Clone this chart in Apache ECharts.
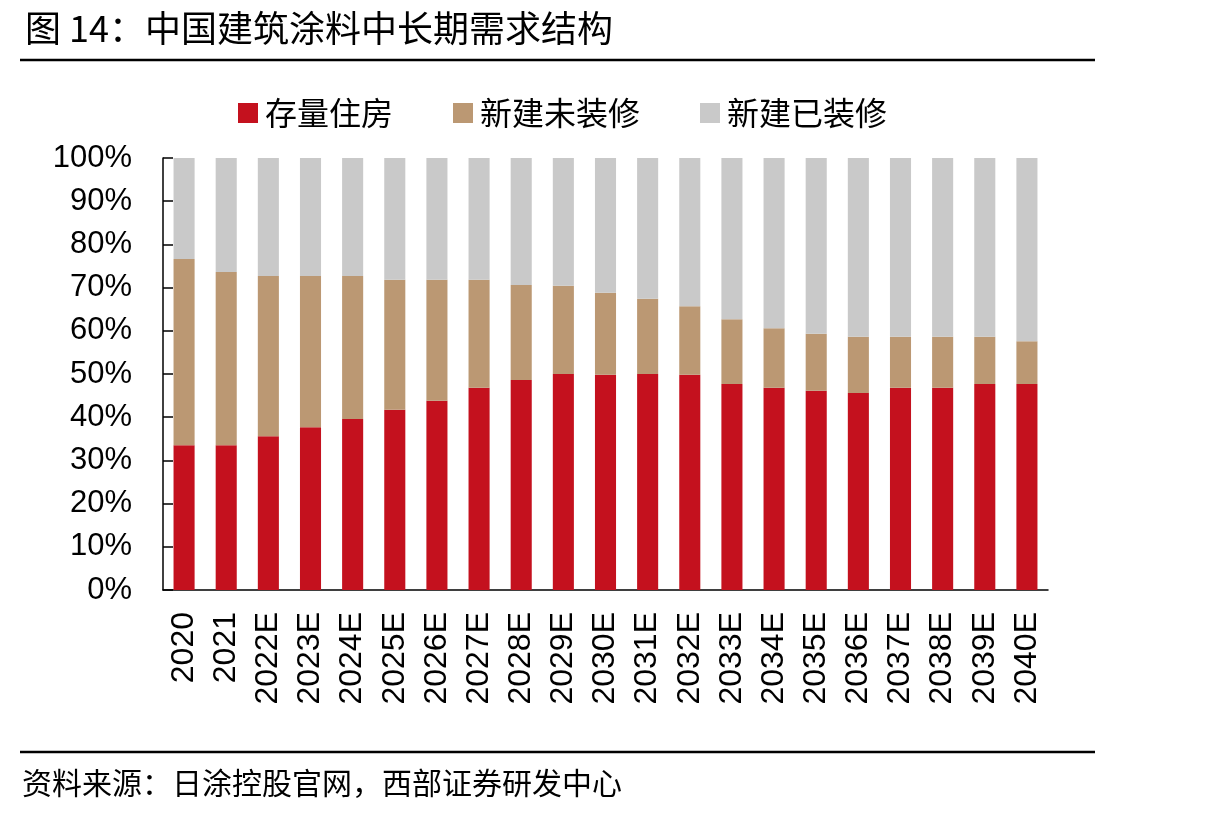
<!DOCTYPE html>
<html>
<head>
    <meta charset="utf-8">
    <title>中国建筑涂料中长期需求结构</title>
    <script src="https://cdn.jsdelivr.net/npm/echarts@6/dist/echarts.min.js"></script>
    <style type="text/css">
        html, body {margin:0; padding:0; background-color:#fff; overflow:hidden;}
    </style>
</head>
<body>
<div id="container" style="width:1215px;height:818px;"></div>

<script type="text/javascript">
    // 年份
    var years = ['2020','2021','2022E','2023E','2024E','2025E','2026E','2027E','2028E','2029E','2030E',
                 '2031E','2032E','2033E','2034E','2035E','2036E','2037E','2038E','2039E','2040E'];
    // 存量住房 (%)
    var cunliang = [33.5,33.5,35.6,37.7,39.6,41.7,43.8,46.8,48.6,50.0,49.8,50.0,49.8,47.7,46.8,46.1,45.6,46.8,46.8,47.7,47.7];
    // 新建未装修 (%)
    var weizhuang = [43.1,40.1,37.1,35.0,33.1,30.1,28.0,25.0,22.0,20.4,19.0,17.4,15.9,15.0,13.8,13.2,13.0,11.8,11.8,10.9,9.9];
    // 新建已装修 (%)
    var yizhuang = [23.4,26.4,27.3,27.3,27.3,28.2,28.2,28.2,29.4,29.6,31.2,32.6,34.3,37.3,39.4,40.7,41.4,41.4,41.4,41.4,42.4];

    var cjk = '"Noto Sans CJK SC", sans-serif';
    var num = '"Liberation Sans", Arial, sans-serif';

    var dom = document.getElementById('container');
    var myChart = echarts.init(dom);

    var option = {
        backgroundColor: '#fff',
        animation: false,
        title: {
            text: '图 14：中国建筑涂料中长期需求结构',
            left: 20,
            top: 5,
            textStyle: {fontFamily: cjk, fontSize: 36, fontWeight: 'normal', color: '#000'}
        },
        legend: {
            left: 233,
            top: 92,
            icon: 'rect',
            itemWidth: 20,
            itemHeight: 20,
            itemGap: 60,
            textStyle: {fontFamily: cjk, fontSize: 32, color: '#000', padding: [0, 0, 0, 2]},
            data: ['存量住房', '新建未装修', '新建已装修']
        },
        grid: {
            left: 163,
            right: 167,
            top: 158,
            bottom: 228
        },
        xAxis: {
            type: 'category',
            data: years,
            axisLine: {lineStyle: {color: '#000', width: 1.5}},
            axisTick: {inside: true, length: 10, lineStyle: {color: '#000', width: 1.5}},
            axisLabel: {
                interval: 0,
                rotate: 90,
                margin: 22,
                fontFamily: num,
                fontSize: 32,
                color: '#000'
            }
        },
        yAxis: {
            type: 'value',
            min: 0,
            max: 100,
            interval: 10,
            splitLine: {show: false},
            axisLine: {show: true, lineStyle: {color: '#000', width: 1.5}},
            axisTick: {show: true, inside: true, length: 10, lineStyle: {color: '#000', width: 1.5}},
            axisLabel: {
                formatter: '{value}%',
                margin: 31,
                fontFamily: num,
                fontSize: 31,
                color: '#000'
            }
        },
        series: [
            {
                name: '存量住房',
                type: 'bar',
                stack: 'all',
                barWidth: '50%',
                itemStyle: {color: '#C4111E'},
                data: cunliang
            },
            {
                name: '新建未装修',
                type: 'bar',
                stack: 'all',
                barWidth: '50%',
                itemStyle: {color: '#BB9873'},
                data: weizhuang
            },
            {
                name: '新建已装修',
                type: 'bar',
                stack: 'all',
                barWidth: '50%',
                itemStyle: {color: '#C9C9C9'},
                data: yizhuang
            }
        ],
        // 上下分隔线和资料来源
        graphic: [
            {
                type: 'line',
                shape: {x1: 20, y1: 60, x2: 1095, y2: 60},
                style: {stroke: '#000', lineWidth: 2.5}
            },
            {
                type: 'line',
                shape: {x1: 20, y1: 752, x2: 1095, y2: 752},
                style: {stroke: '#000', lineWidth: 2.5}
            },
            {
                type: 'text',
                left: 22,
                top: 768,
                style: {
                    text: '资料来源：日涂控股官网，西部证券研发中心',
                    font: '30px ' + cjk,
                    fill: '#000'
                }
            }
        ]
    };

    if (option && typeof option === 'object') {
        myChart.setOption(option, true);
    }
</script>
</body>
</html>
